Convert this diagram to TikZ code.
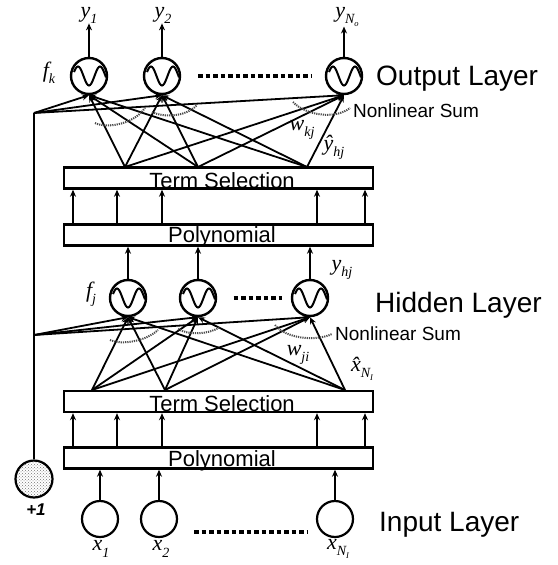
\documentclass[tikz,border=0pt]{standalone}
\usepackage{fontspec}
\setmainfont{Liberation Sans}
\newfontfamily\tms{Liberation Serif}
\usetikzlibrary{arrows.meta,patterns,calc}

% subscripts for the variable labels
\newcommand\sbs[1]{\raisebox{-0.28em}{\fontsize{14}{14}\selectfont #1}}
\newcommand\ssbs[1]{\raisebox{-0.22em}{\fontsize{8.5}{8.5}\selectfont #1}}

\tikzset{
  neuron/.style={circle, draw, line width=2.4pt, minimum size=36pt, inner sep=0pt,
    path picture={\draw[line width=2pt, shift={(path picture bounding box.center)}]
      plot[smooth, domain=-15:17, samples=33] (\x,{-9.5*cos(360*(\x-11)/22)});}},
  inputnode/.style={circle, draw, line width=2.2pt, minimum size=36pt, inner sep=0pt},
  biasnode/.style={circle, draw, line width=2.2pt, minimum size=37pt, inner sep=0pt,
    pattern=crosshatch dots, pattern color=black!55},
  layerbox/.style={draw, line width=2.4pt, minimum width=309pt, minimum height=21pt, inner sep=0pt},
  boxtext/.style={font=\fontsize{22}{22}\selectfont, anchor=base, inner sep=0pt},
  layertext/.style={font=\fontsize{28}{28}\selectfont, anchor=base west, inner sep=0pt},
  sumtext/.style={font=\fontsize{19}{19}\selectfont, anchor=base west, inner sep=0pt},
  vlabel/.style={font=\tms\itshape\fontsize{22}{22}\selectfont, inner sep=0pt},
  conn/.style={line width=1.8pt, -{Stealth[length=7pt,width=6pt]}},
  uparrow/.style={line width=1.8pt, -{Stealth[length=7pt,width=6pt]}},
  ellip/.style={line width=3.5pt, dash pattern=on 4.5pt off 3pt},
  sumarc/.style={line width=2pt, black!70, dash pattern=on 1.2pt off 1pt},
}

\begin{document}
\begin{tikzpicture}[x=1pt,y=-1pt]
\useasboundingbox (0,0) rectangle (557,565);

% ---------- boxes ----------
\node[layerbox] (tsU)   at (218.5,178)   {};
\node[layerbox] (polyU) at (218.5,235)   {};
\node[layerbox] (tsL)   at (218.5,401.5) {};
\node[layerbox] (polyL) at (218.5,458)   {};
\node[boxtext] (tsUt)   at (222,188.5) {Term Selection};
\node[boxtext] (polyUt) at (222,242.5) {Polynomial};
\node[boxtext] (tsLt)   at (222,411.5) {Term Selection};
\node[boxtext] (polyLt) at (222,466)   {Polynomial};

% ---------- neurons ----------
\node[neuron] (o1) at (89,76)  {};
\node[neuron] (o2) at (162,76) {};
\node[neuron] (o3) at (344,76) {};
\node[neuron] (h1) at (128,298) {};
\node[neuron] (h2) at (198,298) {};
\node[neuron] (h3) at (310,298) {};
\node[inputnode] (i1) at (100,519) {};
\node[inputnode] (i2) at (159,519) {};
\node[inputnode] (i3) at (335,519) {};
\node[biasnode] (b) at (34,479) {};

% ---------- labels ----------
\node[vlabel, anchor=base] (y1)  at (89,17)  {y\sbs{1}};
\node[vlabel, anchor=base] (y2)  at (163,17) {y\sbs{2}};
\node[vlabel, anchor=base] (yNo) at (347,17) {y\sbs{N\ssbs{o}}};
\node[vlabel] (fk)  at (49,73)  {f\sbs{k}};
\node[vlabel] (fj)  at (91,294) {f\sbs{j}};
\node[vlabel] (yhj) at (342,270) {y\sbs{hj}};
\node[vlabel] (wkj) at (302,130) {w\sbs{kj}};
\node[vlabel] (yhat) at (334,147) {\^{y}\sbs{hj}};
\node[vlabel] (wji) at (298,355) {w\sbs{ji}};
\node[vlabel] (xhat) at (362,369) {\^{x}\sbs{N\ssbs{I}}};
\node[vlabel] (x1) at (101,549) {x\sbs{1}};
\node[vlabel] (x2) at (161,549) {x\sbs{2}};
\node[vlabel] (xN) at (338,549) {x\sbs{N\ssbs{I}}};
\node[font=\bfseries\itshape\fontsize{17}{17}\selectfont, inner sep=0pt] (one) at (36,510) {+1};

\node[layertext] (outL) at (376,85)  {Output Layer};
\node[layertext] (hidL) at (375,312) {Hidden Layer};
\node[layertext] (inL)  at (379,531) {Input Layer};
\node[sumtext] (nsU) at (353,117) {Nonlinear Sum};
\node[sumtext] (nsL) at (335,340) {Nonlinear Sum};

% ---------- output arrows ----------
\draw[uparrow] (o1.north) -- (o1.north |- y1.south);
\draw[uparrow] (o2.north) -- (o2.north |- y2.south);
\draw[uparrow] (o3.north) -- (o3.north |- yNo.south);

% ---------- hidden to polynomial, input to polynomial ----------
\foreach \n in {h1,h2,h3} \draw[uparrow] (\n.north) -- (\n.north |- polyU.south);
\foreach \n in {i1,i2,i3} \draw[uparrow] (\n.north) -- (\n.north |- polyL.south);

% ---------- polynomial to term selection ----------
\foreach \x [count=\k] in {73,117,162,317,365} {
  \coordinate (col\k) at (\x,0);
  \draw[uparrow] (polyU.north -| col\k) -- (tsU.south -| col\k);
  \draw[uparrow] (polyL.north -| col\k) -- (tsL.south -| col\k);
}

% ---------- selected terms feeding the neurons ----------
\coordinate (su1) at (125,167);
\coordinate (su2) at (198,167);
\coordinate (su3) at (307,167);
\coordinate (sl1) at (92,390);
\coordinate (sl2) at (165,390);
\coordinate (sl3) at (345,390);
\foreach \s in {su1,su2,su3}
  \foreach \t in {o1,o2,o3} \draw[conn] (\s) -- (\t.south);
\foreach \s in {sl1,sl2,sl3}
  \foreach \t in {h1,h2,h3} \draw[conn] (\s) -- (\t.south);

% ---------- bias line ----------
\coordinate (bU) at (34,113);
\coordinate (bL) at (34,335);
\draw[line width=1.8pt] (b.north) -- (bU);
\foreach \t in {o1,o2,o3} \draw[conn] (bU) -- (\t.south);
\foreach \t in {h1,h2,h3} \draw[conn] (bL) -- (\t.south);

% ---------- ellipses between neurons ----------
\draw[ellip] ($(o2.east)+(17,0)$) -- ($(o3.west)+(-13,0)$);
\draw[ellip] ($(h2.east)+(16.5,0)$) -- ($(h3.west)+(-8.5,0)$);
\draw[ellip] ($(i2.east)+(16,13)$) -- ($(i3.west)+(-9,13)$);

% ---------- summation arcs ----------
\draw[sumarc] (95,123) .. controls (105,128) and (132,126) .. (145,108);
\draw[sumarc] (152,112) .. controls (162,117) and (185,118) .. (197,105);
\draw[sumarc] (293,102) .. controls (305,115) and (335,120) .. (350,108);
\draw[sumarc] (110,340) .. controls (120,345) and (145,342) .. (158,330);
\draw[sumarc] (178,329) .. controls (188,335) and (208,335) .. (220,327);
\draw[sumarc] (275,325) .. controls (285,338) and (315,342) .. (332,334);
\end{tikzpicture}
\end{document}
